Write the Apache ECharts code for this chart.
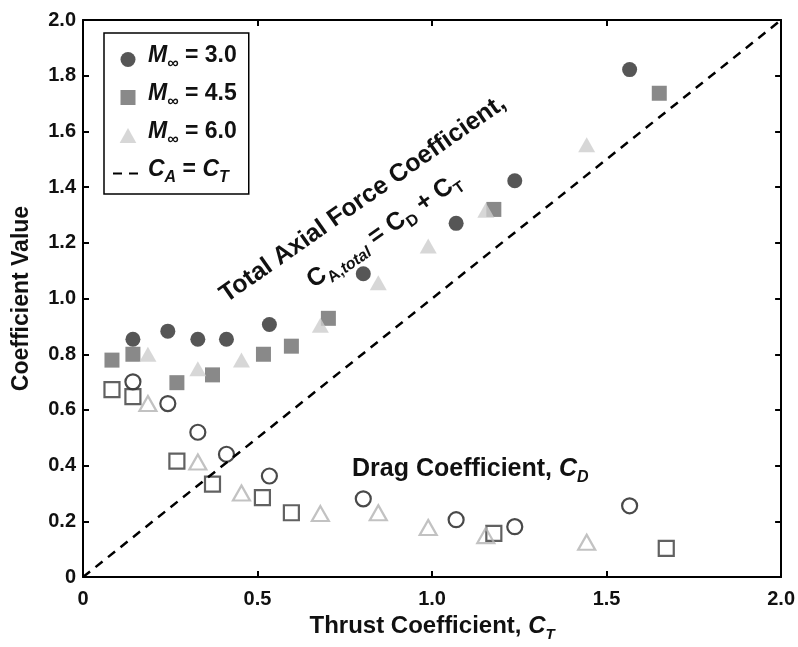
<!DOCTYPE html>
<html>
<head>
<meta charset="utf-8">
<script src="https://cdn.jsdelivr.net/npm/echarts@6/dist/echarts.min.js"></script>
<style>
  html, body { margin: 0; padding: 0; background: #ffffff; }
  #chart { width: 798px; height: 647px; }
</style>
</head>
<body>
<div id="chart"></div>
<script>
// M∞ = 3.0: thrust coefficient, total axial force coefficient, drag coefficient
const ctM30 = [0.143, 0.243, 0.329, 0.411, 0.534, 0.803, 1.069, 1.237, 1.566];
const totalM30 = [0.854, 0.883, 0.854, 0.854, 0.907, 1.089, 1.270, 1.423, 1.822];
const dragM30 = [0.701, 0.623, 0.520, 0.441, 0.363, 0.281, 0.206, 0.181, 0.256];

// M∞ = 4.5
const ctM45 = [0.083, 0.143, 0.269, 0.371, 0.517, 0.597, 0.703, 1.177, 1.651];
const totalM45 = [0.779, 0.800, 0.698, 0.726, 0.800, 0.829, 0.929, 1.320, 1.737];
const ctDragM45 = [0.083, 0.143, 0.269, 0.371, 0.514, 0.597, 1.177, 1.671];
const dragM45 = [0.673, 0.648, 0.416, 0.334, 0.285, 0.231, 0.157, 0.103];

// M∞ = 6.0
const ctM60 = [0.186, 0.329, 0.454, 0.680, 0.846, 0.989, 1.154, 1.443];
const totalM60 = [0.800, 0.748, 0.779, 0.904, 1.057, 1.189, 1.317, 1.552];
const dragM60 = [0.623, 0.413, 0.302, 0.228, 0.231, 0.178, 0.149, 0.125];

// Reference line C_A = C_T
const identityCt = [0, 2];
const identityCa = [0, 2];

// Axis tick labels
const xTickLabels = ['0', '0.5', '1.0', '1.5', '2.0'];
const yTickLabels = ['0', '0.2', '0.4', '0.6', '0.8', '1.0', '1.2', '1.4', '1.6', '1.8', '2.0'];

const FONT = '"Liberation Sans", Arial, Helvetica, sans-serif';
const INK = '#111111';

const zip = (xs, ys) => xs.map((x, i) => [x, ys[i]]);

const legendText = {
  'M3.0': '{m|M}{s|∞}{t| = 3.0}',
  'M4.5': '{m|M}{s|∞}{t| = 4.5}',
  'M6.0': '{m|M}{s|∞}{t| = 6.0}',
  'CA=CT': '{m|C}{s|A}{t| = }{m|C}{s|T}'
};

// Legend glyphs as paths so they keep their proportions inside the wide icon slot
const SQUARE_ICON = 'path://M0,0L10,0L10,10L0,10Z';
const TRIANGLE_ICON = 'path://M5,0L10,9L0,9Z';

const chart = echarts.init(document.getElementById('chart'), null, { renderer: 'canvas' });

const axisLineStyle = { color: '#000', width: 2 };
const tickStyle = { show: true, inside: true, length: 6, lineStyle: { color: '#000', width: 2 } };

function xAxisDef(position, withLabels) {
  return {
    type: 'value', position: position, min: 0, max: 2, interval: 0.5,
    axisLine: { show: true, onZero: false, lineStyle: axisLineStyle },
    axisTick: tickStyle,
    splitLine: { show: false },
    axisLabel: withLabels ? {
      show: true, margin: 12, color: INK, fontFamily: FONT, fontWeight: 'bold', fontSize: 20,
      formatter: v => xTickLabels[Math.round(v / 0.5)]
    } : { show: false }
  };
}

function yAxisDef(position, withLabels) {
  return {
    type: 'value', position: position, min: 0, max: 2, interval: 0.2,
    axisLine: { show: true, onZero: false, lineStyle: axisLineStyle },
    axisTick: tickStyle,
    splitLine: { show: false },
    axisLabel: withLabels ? {
      show: true, margin: 7, color: INK, fontFamily: FONT, fontWeight: 'bold', fontSize: 20,
      formatter: v => yTickLabels[Math.round(v / 0.2)]
    } : { show: false }
  };
}

const xAxisBottom = xAxisDef('bottom', true);
xAxisBottom.name = '{a|Thrust Coefficient, }{i|C}{is|T}';
xAxisBottom.nameLocation = 'middle';
xAxisBottom.nameGap = 35;
xAxisBottom.nameTextStyle = {
  rich: {
    a: { fontFamily: FONT, fontWeight: 'bold', fontSize: 24, color: INK, verticalAlign: 'bottom', lineHeight: 26, padding: [0, 0, 4, 0] },
    i: { fontFamily: FONT, fontWeight: 'bold', fontStyle: 'italic', fontSize: 24, color: INK, verticalAlign: 'bottom', lineHeight: 26, padding: [0, 0, 4, 0] },
    is: { fontFamily: FONT, fontWeight: 'bold', fontStyle: 'italic', fontSize: 15, color: INK, verticalAlign: 'bottom', lineHeight: 15 }
  }
};

const yAxisLeft = yAxisDef('left', true);
yAxisLeft.name = 'Coefficient Value';
yAxisLeft.nameLocation = 'middle';
yAxisLeft.nameRotate = 90;
yAxisLeft.nameGap = 50;
yAxisLeft.nameTextStyle = { fontFamily: FONT, fontWeight: 'bold', fontSize: 23, color: INK };

const openStyle = (stroke) => ({ color: 'rgba(0,0,0,0)', borderColor: stroke, borderWidth: 2.2 });

const subRich = {
  m: { fontFamily: FONT, fontWeight: 'bold', fontStyle: 'italic', fontSize: 23, color: INK, verticalAlign: 'bottom', lineHeight: 25, padding: [0, 0, 5, 0] },
  t: { fontFamily: FONT, fontWeight: 'bold', fontSize: 23, color: INK, verticalAlign: 'bottom', lineHeight: 25, padding: [0, 0, 5, 0] },
  s: { fontFamily: FONT, fontWeight: 'bold', fontStyle: 'italic', fontSize: 16, color: INK, verticalAlign: 'bottom', lineHeight: 16 }
};

const annoRich = {
  r: { fontFamily: FONT, fontWeight: 'bold', fontSize: 25, fill: INK, color: INK, verticalAlign: 'bottom', lineHeight: 27, padding: [0, 0, 4, 0] },
  ri: { fontFamily: FONT, fontWeight: 'bold', fontStyle: 'italic', fontSize: 25, fill: INK, color: INK, verticalAlign: 'bottom', lineHeight: 27, padding: [0, 0, 4, 0] },
  rs: { fontFamily: FONT, fontWeight: 'bold', fontSize: 16, fill: INK, color: INK, verticalAlign: 'bottom', lineHeight: 16 },
  rsi: { fontFamily: FONT, fontWeight: 'bold', fontStyle: 'italic', fontSize: 16, fill: INK, color: INK, verticalAlign: 'bottom', lineHeight: 16 }
};

const slope = 35 * Math.PI / 180;

chart.setOption({
  animation: false,
  backgroundColor: '#ffffff',
  grid: { left: 83, right: 15, top: 20, bottom: 65, containLabel: false },
  xAxis: [xAxisBottom, xAxisDef('top', false)],
  yAxis: [yAxisLeft, yAxisDef('right', false)],
  legend: {
    data: [
      { name: 'M3.0', icon: 'circle' },
      { name: 'M4.5', icon: SQUARE_ICON },
      { name: 'M6.0', icon: TRIANGLE_ICON },
      { name: 'CA=CT', itemStyle: { opacity: 0, borderWidth: 0 } }
    ],
    orient: 'vertical',
    left: 104, top: 33,
    padding: [11, 12, 8, 8],
    itemWidth: 30, itemHeight: 15,
    itemGap: 10,
    symbolKeepAspect: true,
    borderColor: '#000', borderWidth: 1.5,
    backgroundColor: '#ffffff',
    selectedMode: false,
    formatter: name => legendText[name],
    textStyle: { rich: subRich }
  },
  graphic: [
    {
      type: 'text', x: 363, y: 199, rotation: slope, z: 10,
      style: { text: 'Total Axial Force Coefficient,', font: 'bold 25px ' + FONT, fill: INK, align: 'center', verticalAlign: 'middle' }
    },
    {
      type: 'text', x: 386, y: 233, rotation: slope, z: 10,
      style: {
        text: '{r|C}{rs|A,}{rsi|total}{r| = C}{rs|D}{r| + C}{rs|T}',
        rich: annoRich, align: 'center', verticalAlign: 'middle'
      }
    },
    {
      type: 'text', x: 352, y: 472, z: 10,
      style: {
        text: '{r|Drag Coefficient, }{ri|C}{rsi|D}',
        rich: annoRich, align: 'left', verticalAlign: 'middle'
      }
    }
  ],
  series: [
    {
      name: 'M3.0', type: 'scatter', symbol: 'circle', symbolSize: 15,
      itemStyle: { color: '#2c2c2c' },
      data: zip(ctM30, totalM30), z: 3
    },
    {
      name: 'M4.5', type: 'scatter', symbol: 'rect', symbolSize: 15,
      itemStyle: { color: '#6b6b6b' },
      data: zip(ctM45, totalM45), z: 3
    },
    {
      name: 'M6.0', type: 'scatter', symbol: 'triangle', symbolSize: [17, 15],
      itemStyle: { color: '#cdcdcd' },
      data: zip(ctM60, totalM60), z: 4
    },
    {
      name: 'CA=CT', type: 'line', symbol: 'none',
      lineStyle: { color: '#000', width: 2.5, type: [9, 7] },
      itemStyle: { color: '#000' },
      data: zip(identityCt, identityCa), z: 5
    },
    {
      name: 'drag M3.0', type: 'scatter', symbol: 'circle', symbolSize: 15,
      itemStyle: openStyle('#1c1c1c'),
      data: zip(ctM30, dragM30), z: 3
    },
    {
      name: 'drag M4.5', type: 'scatter', symbol: 'rect', symbolSize: 15,
      itemStyle: openStyle('#3a3a3a'),
      data: zip(ctDragM45, dragM45), z: 3
    },
    {
      name: 'drag M6.0', type: 'scatter', symbol: 'triangle', symbolSize: [17, 15],
      itemStyle: openStyle('#b3b3b3'),
      data: zip(ctM60, dragM60), z: 4
    }
  ]
});
</script>
</body>
</html>
